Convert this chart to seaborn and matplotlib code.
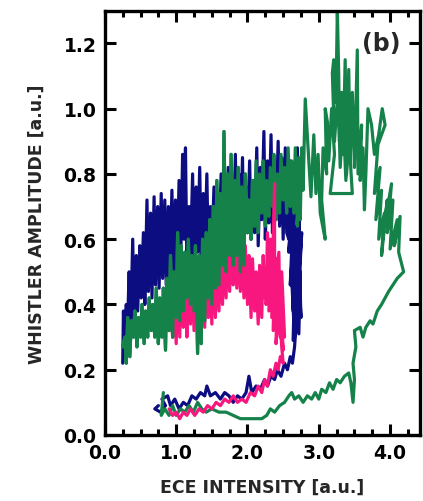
import matplotlib
matplotlib.use("Agg")
import matplotlib.pyplot as plt
import seaborn as sns
import pandas as pd
from matplotlib.ticker import MultipleLocator

# ---- data: (ECE intensity, whistler amplitude) in time order ----
navy_pts = [
    (0.75,0.09),(0.70,0.08),(0.78,0.07),(0.85,0.09),(0.80,0.11),(0.88,0.12),(0.92,0.09),(0.98,0.11),(1.04,0.08),(1.10,0.10),
    (1.16,0.09),(1.22,0.12),(1.28,0.11),(1.34,0.13),(1.40,0.12),(1.43,0.15),(1.48,0.12),(1.55,0.13),(1.62,0.11),(1.68,0.13),
    (1.74,0.12),(1.80,0.10),(1.86,0.12),(1.92,0.11),(1.98,0.13),(2.02,0.18),(2.06,0.13),(2.12,0.15),(2.18,0.14),(2.24,0.17),
    (2.28,0.15),(2.33,0.18),(2.38,0.17),(2.42,0.20),(2.47,0.18),(2.52,0.22),(2.56,0.20),(2.60,0.24),(2.63,0.22),(2.66,0.27),
    (2.70,0.40),(2.64,0.29),(2.66,0.46),(2.72,0.31),(2.74,0.50),(2.68,0.34),(2.62,0.48),(2.66,0.30),(2.70,0.55),(2.75,0.36),
    (2.72,0.58),(2.64,0.38),(2.62,0.56),(2.70,0.42),(2.76,0.62),(2.72,0.44),(2.66,0.64),(2.60,0.46),(2.64,0.68),(2.70,0.48),
    (2.74,0.72),(2.68,0.50),(2.62,0.74),(2.58,0.56),(2.66,0.80),(2.72,0.58),(2.70,0.88),(2.64,0.62),(2.60,0.84),(2.56,0.66),
    (2.62,0.76),(2.58,0.60),
    (2.55,0.62),(2.53,0.88),(2.50,0.60),(2.48,0.85),(2.45,0.64),(2.43,0.90),(2.40,0.66),(2.38,0.80),(2.35,0.62),(2.33,0.92),
    (2.30,0.65),(2.28,0.84),(2.25,0.60),(2.23,0.93),(2.20,0.66),(2.18,0.82),(2.15,0.58),(2.13,0.88),(2.10,0.62),(2.08,0.78),
    (2.05,0.60),(2.03,0.84),(2.00,0.62),(1.98,0.76),(1.95,0.58),(1.93,0.85),(1.90,0.62),(1.88,0.80),(1.85,0.56),(1.83,0.86),
    (1.80,0.60),(1.78,0.78),(1.75,0.55),(1.73,0.82),(1.70,0.58),(1.68,0.75),(1.65,0.54),(1.63,0.80),(1.60,0.58),(1.58,0.72),
    (1.55,0.52),(1.53,0.76),(1.50,0.56),(1.48,0.70),(1.45,0.54),(1.43,0.80),(1.40,0.55),(1.38,0.74),(1.35,0.52),(1.33,0.82),
    (1.30,0.56),(1.28,0.76),(1.25,0.50),(1.23,0.80),(1.20,0.54),(1.18,0.70),(1.15,0.52),(1.13,0.88),(1.11,0.60),(1.09,0.86),
    (1.06,0.50),(1.04,0.78),(1.01,0.48),(0.99,0.72),(0.96,0.50),(0.94,0.75),(0.91,0.48),(0.89,0.70),(0.86,0.46),(0.84,0.72),
    (0.81,0.48),(0.79,0.74),(0.76,0.45),(0.74,0.70),(0.71,0.46),(0.69,0.73),(0.66,0.42),(0.64,0.68),(0.61,0.44),(0.59,0.72),
    (0.56,0.40),(0.54,0.62),(0.51,0.42),(0.49,0.58),(0.46,0.38),(0.44,0.55),(0.41,0.35),(0.39,0.60),(0.36,0.32),(0.34,0.50),
    (0.31,0.28),(0.30,0.40),(0.28,0.24),(0.26,0.38),(0.25,0.22),
]

pink_pts = [
    (0.90,0.08),(0.95,0.06),(1.00,0.07),(1.05,0.05),(1.10,0.07),(1.15,0.06),(1.20,0.08),(1.26,0.06),(1.32,0.08),(1.38,0.07),
    (1.44,0.09),(1.50,0.08),(1.56,0.10),(1.62,0.09),(1.68,0.11),(1.74,0.10),(1.80,0.12),(1.86,0.10),(1.92,0.11),(1.98,0.10),
    (2.04,0.13),(2.10,0.12),(2.15,0.15),(2.20,0.13),(2.24,0.17),(2.28,0.15),(2.32,0.20),(2.36,0.18),(2.40,0.22),(2.43,0.20),
    (2.46,0.24),(2.50,0.22),(2.48,0.27),
    (2.44,0.40),(2.50,0.26),(2.46,0.44),(2.40,0.28),(2.42,0.48),(2.52,0.30),(2.48,0.50),(2.36,0.32),(2.38,0.52),(2.46,0.30),
    (2.44,0.56),(2.34,0.36),(2.36,0.58),(2.42,0.34),(2.40,0.54),(2.30,0.38),(2.32,0.60),(2.38,0.40),(2.38,0.77),(2.34,0.44),
    (2.28,0.62),(2.26,0.40),(2.30,0.55),(2.24,0.42),
    (2.22,0.55),(2.20,0.36),(2.17,0.52),(2.15,0.34),(2.12,0.50),(2.10,0.38),(2.07,0.54),(2.05,0.36),(2.02,0.55),(2.00,0.40),
    (1.97,0.58),(1.95,0.42),(1.92,0.60),(1.90,0.44),(1.87,0.62),(1.85,0.45),(1.82,0.65),(1.80,0.46),(1.77,0.60),(1.75,0.44),
    (1.72,0.62),(1.70,0.42),(1.67,0.58),(1.65,0.40),(1.62,0.56),(1.60,0.38),(1.57,0.55),(1.55,0.36),(1.52,0.58),(1.50,0.34),
    (1.47,0.52),(1.45,0.36),(1.42,0.55),(1.40,0.33),(1.37,0.50),(1.35,0.36),(1.32,0.52),(1.30,0.34),(1.27,0.48),(1.25,0.32),
    (1.22,0.50),(1.20,0.34),(1.17,0.46),(1.15,0.30),(1.12,0.50),(1.10,0.33),(1.07,0.55),(1.05,0.30),(1.02,0.50),(1.00,0.28),
    (0.97,0.45),(0.95,0.30),(0.92,0.42),(0.90,0.32),
]

green_pts = [
    (0.82,0.13),(0.79,0.06),(0.84,0.08),(0.90,0.06),(0.95,0.09),(1.00,0.06),(1.06,0.08),(1.12,0.07),(1.18,0.09),(1.24,0.07),
    (1.30,0.10),(1.36,0.08),(1.42,0.07),(1.50,0.08),(1.60,0.07),(1.70,0.07),(1.80,0.06),(1.90,0.05),(2.00,0.05),(2.10,0.05),
    (2.20,0.05),(2.27,0.06),(2.32,0.08),(2.38,0.07),(2.45,0.09),(2.52,0.10),(2.58,0.12),(2.62,0.13),(2.66,0.11),(2.72,0.12),
    (2.78,0.10),(2.84,0.12),(2.90,0.11),(2.95,0.13),(3.00,0.11),(3.04,0.14),(3.10,0.13),(3.15,0.16),(3.20,0.14),(3.25,0.17),
    (3.30,0.16),(3.36,0.18),(3.42,0.19),(3.45,0.16),(3.48,0.10),(3.50,0.17),(3.48,0.22),(3.52,0.27),(3.50,0.32),(3.58,0.33),
    (3.62,0.30),(3.66,0.33),(3.72,0.35),(3.76,0.34),(3.82,0.38),(3.88,0.40),(3.93,0.42),(3.98,0.44),(4.04,0.46),(4.10,0.48),
    (4.19,0.50),
    (4.12,0.56),(4.14,0.67),(4.06,0.58),(4.10,0.66),(4.00,0.57),(4.04,0.72),(3.96,0.62),(4.02,0.77),(3.92,0.64),(3.96,0.72),
    (3.88,0.55),(3.92,0.68),(3.84,0.60),(3.88,0.75),(3.80,0.66),(3.86,0.82),(3.78,0.74),(3.83,0.89),(3.93,0.95),(3.89,1.00),
    (3.84,0.92),(3.78,0.86),(3.74,0.95),(3.69,1.00),(3.66,0.80),(3.64,0.69),(3.62,0.88),(3.58,0.78),(3.60,0.95),(3.55,0.80),
    (3.54,1.18),(3.50,0.82),(3.47,1.05),(3.44,0.84),(3.42,1.12),(3.39,0.80),(3.37,1.15),(3.34,0.86),(3.32,1.05),(3.29,0.90),
    (3.28,1.10),(3.26,1.30),(3.24,1.02),(3.21,1.15),(3.19,1.11),(3.22,0.90),(3.27,1.06),(3.30,0.82),(3.34,0.98),(3.38,0.78),
    (3.42,0.92),(3.47,0.74),(3.16,0.74),(3.22,0.86),(3.18,1.00),(3.14,0.84),(3.12,0.96),(3.09,1.00),(3.11,0.80),(3.06,0.88),
    (3.04,0.72),(3.09,0.60),(3.02,0.68),(2.99,0.86),(2.96,0.74),(2.93,0.92),(2.89,0.73),(2.86,0.84),(2.81,1.03),(2.78,0.75),
    (2.76,0.88),(2.74,0.66),(2.72,0.85),(2.70,0.64),(2.67,0.88),(2.65,0.68),(2.62,0.84),(2.60,0.70),(2.57,0.88),(2.55,0.68),
    (2.52,0.82),(2.50,0.72),(2.47,0.86),(2.45,0.68),(2.42,0.80),(2.40,0.66),(2.37,0.86),(2.35,0.70),(2.32,0.82),(2.30,0.67),
    (2.27,0.78),(2.25,0.64),(2.22,0.84),(2.20,0.68),(2.17,0.80),(2.15,0.62),(2.12,0.84),(2.10,0.64),(2.07,0.78),(2.05,0.60),
    (2.02,0.72),(2.00,0.62),(1.97,0.80),(1.95,0.52),(1.92,0.76),(1.90,0.50),(1.87,0.82),(1.85,0.55),(1.82,0.78),(1.80,0.52),
    (1.77,0.86),(1.75,0.55),(1.72,0.80),(1.70,0.50),(1.67,0.93),(1.65,0.52),(1.62,0.74),(1.60,0.46),(1.57,0.78),(1.55,0.45),
    (1.52,0.70),(1.50,0.40),(1.47,0.66),(1.45,0.42),(1.42,0.62),(1.40,0.35),(1.37,0.60),(1.35,0.28),(1.32,0.55),(1.30,0.25),
    (1.27,0.58),(1.25,0.38),(1.22,0.55),(1.20,0.40),(1.17,0.60),(1.15,0.42),(1.12,0.56),(1.10,0.38),(1.07,0.58),(1.05,0.35),
    (1.02,0.62),(1.00,0.36),(0.97,0.50),(0.95,0.30),(0.92,0.55),(0.90,0.32),(0.87,0.48),(0.85,0.26),(0.82,0.45),(0.80,0.30),
    (0.77,0.42),(0.75,0.28),(0.72,0.45),(0.70,0.30),(0.67,0.40),(0.65,0.32),(0.62,0.42),(0.60,0.30),(0.57,0.38),(0.55,0.28),
    (0.52,0.40),(0.50,0.30),(0.47,0.36),(0.45,0.27),(0.42,0.38),(0.40,0.30),(0.37,0.35),(0.35,0.24),(0.32,0.36),(0.30,0.22),
    (0.28,0.30),(0.25,0.27),
]

colors = {"navy": "#0d0d82", "pink": "#f8167f", "green": "#15824a"}

frames = []
for name, pts in [("navy", navy_pts), ("pink", pink_pts), ("green", green_pts)]:
    xs, ys = zip(*pts)
    frames.append(pd.DataFrame({"ece": xs, "amp": ys, "series": name, "step": range(len(xs))}))
df = pd.concat(frames, ignore_index=True)

sns.set_style("ticks")
plt.rcParams["font.family"] = ["DejaVu Sans"]
plt.rcParams["font.weight"] = "bold"
plt.rcParams["path.simplify"] = False

fig = plt.figure(figsize=(4.23, 5.02), dpi=100)
ax = fig.add_axes([0.248, 0.1315, 0.745, 0.845])

lw = 2.3
navy_df = df[df["series"] == "navy"]
green_df = df[df["series"] == "green"]
pink_df = df[df["series"] == "pink"]
sns.lineplot(data=navy_df, x="ece", y="amp", sort=False, estimator=None,
             color=colors["navy"], linewidth=lw, ax=ax, legend=False)
sns.lineplot(data=green_df, x="ece", y="amp", sort=False, estimator=None,
             color=colors["green"], linewidth=lw, ax=ax, legend=False)
sns.lineplot(data=pink_df, x="ece", y="amp", sort=False, estimator=None,
             color=colors["pink"], linewidth=lw, ax=ax, legend=False)
# late (left) part of the green trajectory lies on top of pink
green_tail = green_df[green_df["step"] >= len(green_pts) - 75]
sns.lineplot(data=green_tail, x="ece", y="amp", sort=False, estimator=None,
             color=colors["green"], linewidth=lw, ax=ax, legend=False)

ax.set_xlim(0, 4.42)
ax.set_ylim(0, 1.3)
ax.set_xticks([0, 1, 2, 3, 4])
ax.set_xticklabels(["0.0", "1.0", "2.0", "3.0", "4.0"])
ax.xaxis.set_minor_locator(MultipleLocator(0.25))
ax.set_yticks([0, 0.2, 0.4, 0.6, 0.8, 1.0, 1.2])
ax.set_yticklabels(["0.0", "0.2", "0.4", "0.6", "0.8", "1.0", "1.2"])
ax.tick_params(which="both", direction="in", top=True, right=True, width=2.2, colors="black")
ax.tick_params(which="major", length=8, labelsize=13.5, pad=6)
ax.tick_params(which="minor", length=4.5)
for lab in ax.get_xticklabels() + ax.get_yticklabels():
    lab.set_fontweight("bold")
for s in ax.spines.values():
    s.set_linewidth(2.4)
    s.set_color("black")

ax.set_xlabel("ECE INTENSITY [a.u.]", fontsize=12.5, fontweight="bold", labelpad=11)
ax.set_ylabel("WHISTLER AMPLITUDE [a.u.]", fontsize=12.5, fontweight="bold", labelpad=13)
ax.text(3.87, 1.2, "(b)", fontsize=17, fontweight="bold", ha="center", va="center")

fig.savefig("out.png", dpi=100)
